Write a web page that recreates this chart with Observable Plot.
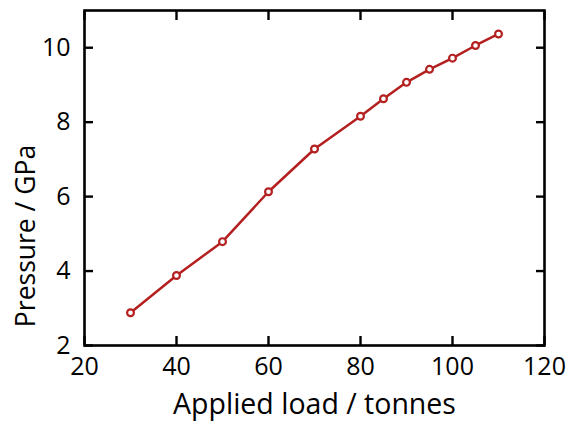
<!DOCTYPE html>
<html>
<head>
<meta charset="utf-8">
<script src="https://cdn.jsdelivr.net/npm/d3@7"></script>
<script src="https://cdn.jsdelivr.net/npm/@observablehq/plot@0.6"></script>
<style>
  html, body { margin: 0; padding: 0; background: #fff; }
  #chart svg { display: block; }
</style>
</head>
<body>
<div id="chart"></div>
<script>
const loads = [30, 40, 50, 60, 70, 80, 85, 90, 95, 100, 105, 110];
const pressures = [2.88, 3.88, 4.79, 6.13, 7.28, 8.16, 8.63, 9.07, 9.42, 9.72, 10.06, 10.37];
const xTicks = [20, 40, 60, 80, 100, 120];
const yTicks = [2, 4, 6, 8, 10];
const xLabel = "Applied load / tonnes";
const yLabel = "Pressure / GPa";

const data = loads.map((x, i) => ({x, y: pressures[i]}));
const color = "#b41f1f";
const font = "Open Sans, sans-serif";

const chart = Plot.plot({
  width: 573,
  height: 425,
  marginLeft: 84,
  marginRight: 29,
  marginTop: 10,
  marginBottom: 80,
  style: {fontFamily: font, fontSize: "25px", color: "#000", background: "#fff"},
  x: {domain: [20, 120]},
  y: {domain: [2, 11]},
  marks: [
    Plot.axisX(xTicks, {anchor: "bottom", tickSize: 0, tickPadding: 12, fontSize: 25, label: null}),
    Plot.axisX(xTicks, {anchor: "bottom", tickSize: -9, strokeWidth: 2.4, text: null, label: null}),
    Plot.axisX(xTicks, {anchor: "top", tickSize: -9, strokeWidth: 2.4, text: null, label: null}),
    Plot.axisY(yTicks, {anchor: "left", tickSize: 0, tickPadding: 14, fontSize: 25, label: null}),
    Plot.axisY(yTicks, {anchor: "left", tickSize: -9, strokeWidth: 2.4, text: null, label: null}),
    Plot.axisY(yTicks, {anchor: "right", tickSize: -9, strokeWidth: 2.4, text: null, label: null}),
    Plot.frame({stroke: "#000", strokeWidth: 2.6}),
    Plot.line(data, {x: "x", y: "y", stroke: color, strokeWidth: 2.5}),
    Plot.dot(data, {x: "x", y: "y", r: 3.4, stroke: color, strokeWidth: 2.2, fill: "#fff"}),
    Plot.text([xLabel], {frameAnchor: "bottom", textAnchor: "middle", lineAnchor: "bottom", dy: 68, fontSize: 28.5}),
    Plot.text([yLabel], {frameAnchor: "left", textAnchor: "middle", rotate: -90, dx: -58, dy: 58, lineAnchor: "middle", fontSize: 26.5})
  ]
});
document.getElementById("chart").appendChild(chart);
</script>
</body>
</html>
